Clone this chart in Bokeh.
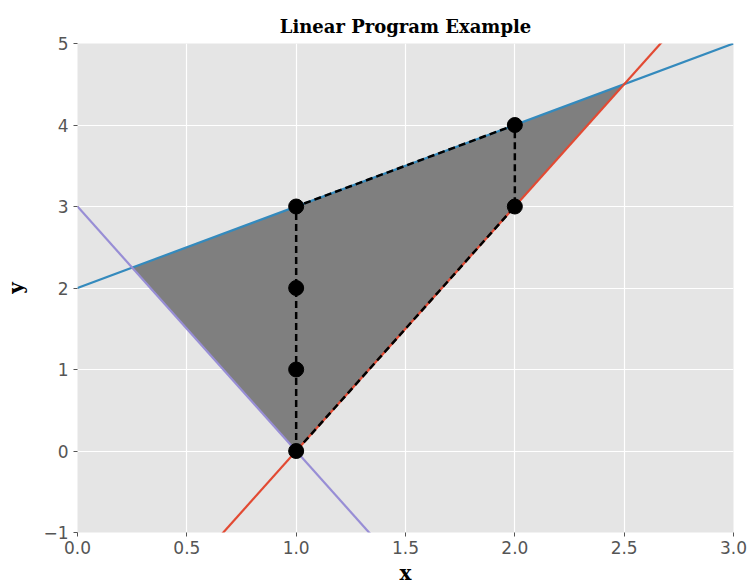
from bokeh.plotting import figure
from bokeh.embed import file_html
from bokeh.resources import INLINE
from bokeh.models import Range1d, FixedTicker

# Data
x_line = [0.0, 3.0]
blue_y = [2.0, 5.0]          # y = x + 2
red_x = [0.0, 3.0]
red_y = [-3.0, 6.0]          # y = 3x - 3
purple_x = [0.0, 3.0]
purple_y = [3.0, -6.0]       # y = 3 - 3x
region_x = [0.25, 2.5, 1.0]
region_y = [2.25, 4.5, 0.0]
path_x = [1, 1, 1, 1, 2, 2, 1]
path_y = [0, 1, 2, 3, 4, 3, 0]
pts_x = [1, 1, 1, 1, 2, 2]
pts_y = [0, 1, 2, 3, 3, 4]
xticks = [0.0, 0.5, 1.0, 1.5, 2.0, 2.5, 3.0]
yticks = [-1, 0, 1, 2, 3, 4, 5]

p = figure(width=748, height=588, output_backend="svg", toolbar_location=None,
           x_range=Range1d(0, 3), y_range=Range1d(-1, 5),
           min_border_left=77, min_border_right=15, min_border_top=43, min_border_bottom=56,
           title="Linear Program Example")
p.background_fill_color = "#E5E5E5"
p.border_fill_color = "white"
p.outline_line_color = None

p.title.align = "center"
p.title.text_font = "DejaVu Serif"
p.title.text_font_style = "bold"
p.title.text_font_size = "18px"
p.title.text_color = "black"
p.title.vertical_align = "top"

p.grid.grid_line_color = "white"
p.grid.grid_line_width = 1.2

for ax in (p.xaxis, p.yaxis):
    ax.axis_line_color = None
    ax.major_tick_line_color = "#555555"
    ax.major_tick_out = 4
    ax.major_tick_in = 0
    ax.minor_tick_line_color = None
    ax.major_label_text_color = "#555555"
    ax.major_label_text_font = "DejaVu Sans"
    ax.major_label_text_font_size = "17px"
    ax.axis_label_text_font = "DejaVu Serif"
    ax.axis_label_text_font_style = "bold"
    ax.axis_label_text_font_size = "20px"
    ax.axis_label_text_color = "black"

p.xaxis.ticker = FixedTicker(ticks=xticks)
p.yaxis.ticker = FixedTicker(ticks=yticks)
p.xaxis.major_label_overrides = {v: f"{v:.1f}" for v in xticks}
p.yaxis.major_label_overrides = {v: ("\u22121" if v < 0 else str(v)) for v in yticks}
p.xaxis.major_label_standoff = 4
p.yaxis.major_label_standoff = 5
p.xaxis.axis_label = "x"
p.yaxis.axis_label = "y"
p.xaxis.axis_label_standoff = 4
p.yaxis.axis_label_standoff = 12

p.patch(region_x, region_y, fill_color="#7F7F7F", line_color=None)
p.line(x_line, blue_y, line_color="#348ABD", line_width=2.2)
p.line(red_x, red_y, line_color="#E24A33", line_width=2.2)
p.line(purple_x, purple_y, line_color="#988ED5", line_width=2.2)
p.line(path_x, path_y, line_color="black", line_width=2.5, line_dash="7 4")
p.scatter(pts_x, pts_y, size=15, fill_color="black", line_color="black")

open("out.html", "w").write(file_html(p, INLINE))
